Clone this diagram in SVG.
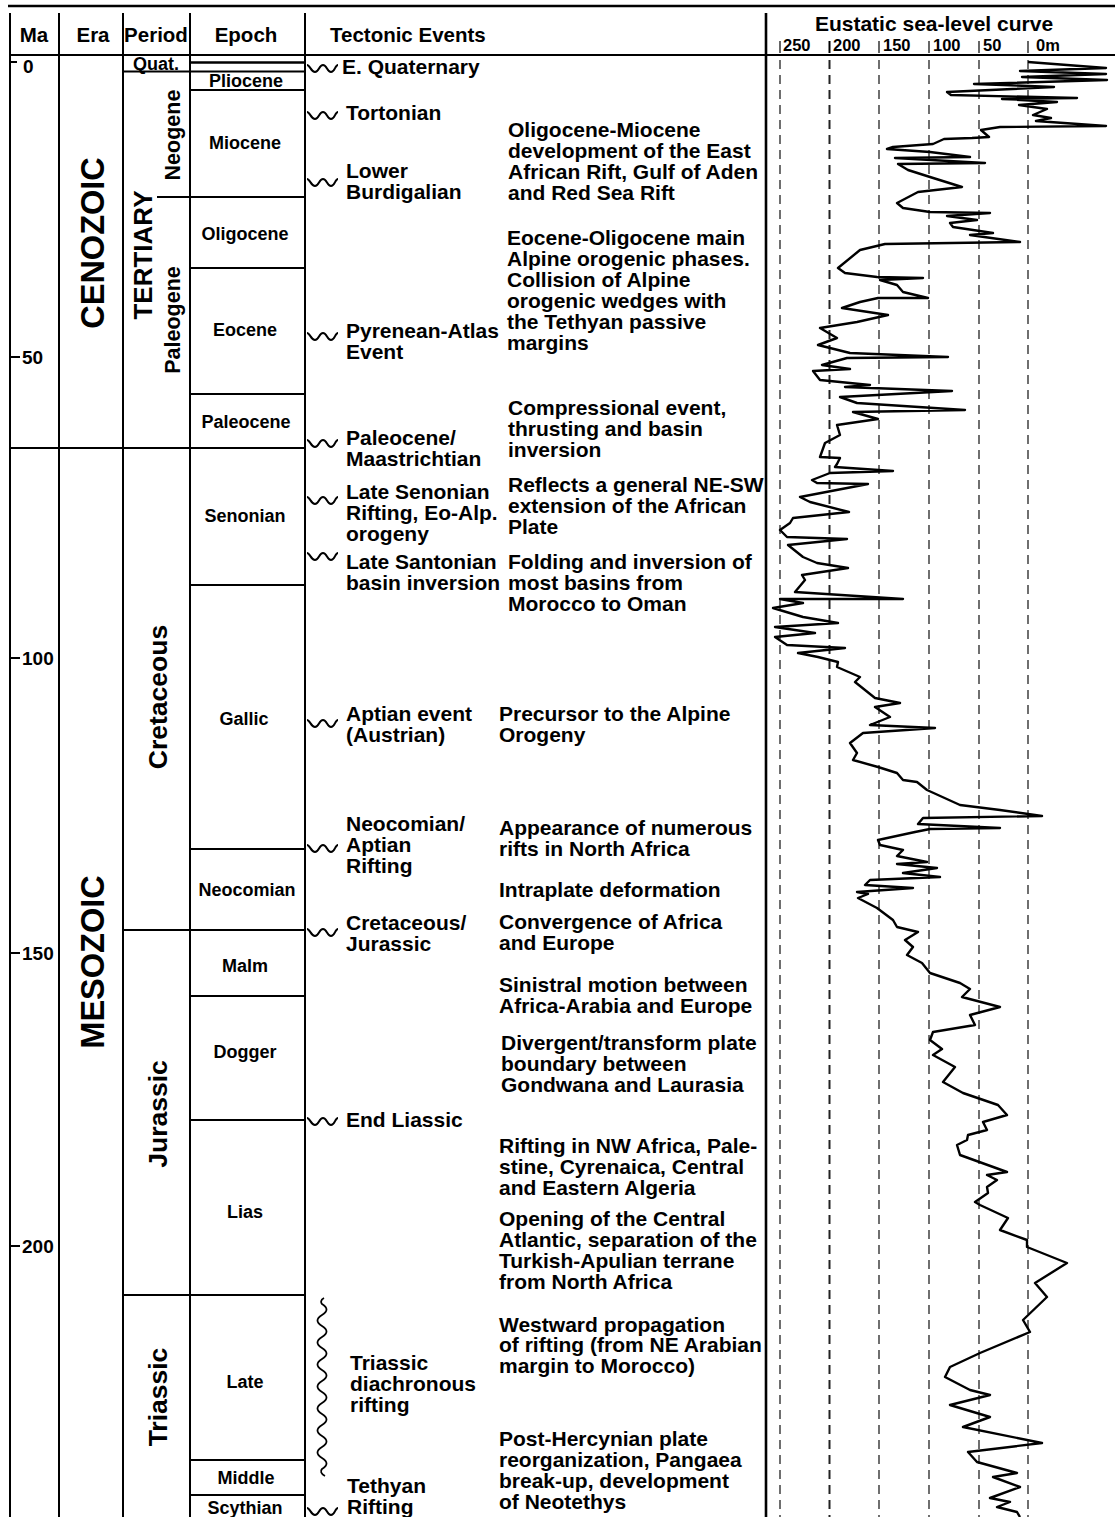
<svg xmlns="http://www.w3.org/2000/svg" width="1115" height="1517" viewBox="0 0 1115 1517">
<style>
text{font-family:"Liberation Sans",Arial,sans-serif;font-weight:bold;fill:#000}
.hd{font-size:20.5px}
.ma{font-size:19px}
.ep{font-size:18px;text-anchor:middle}
.ev{font-size:21px}
.era{font-size:32.5px;text-anchor:middle}
.per{font-size:26.5px;text-anchor:middle}
.sub{font-size:21.5px;text-anchor:middle}
.sc{font-size:16.5px}
.ln{stroke:#000;stroke-width:2;fill:none}
.thin{stroke:#000;stroke-width:1.2;fill:none}
.dash{stroke:#222;stroke-width:1.3;stroke-dasharray:9 6;fill:none}
.wave{stroke:#000;stroke-width:2;fill:none}
.curve{stroke:#000;stroke-width:2.4;fill:none;stroke-linejoin:round}
</style>
<defs>
<path id="w" d="M0,-3 C3,-3 4,4 8,4 C12,4 12,-3 16,-3 C20,-3 20,4 24,4 C28,4 28,-3 31,-3"/>
</defs>
<rect width="1115" height="1517" fill="#fff"/>

<g id="frame">
<line class="ln" x1="8" y1="6" x2="1115" y2="6" style="stroke-width:2.6"/>
<line class="ln" x1="10" y1="55" x2="1115" y2="55"/>
<line class="ln" x1="10" y1="13" x2="10" y2="1517"/>
<line class="ln" x1="59" y1="13" x2="59" y2="1517"/>
<line class="ln" x1="123" y1="13" x2="123" y2="1517"/>
<line class="ln" x1="190" y1="13" x2="190" y2="1517"/>
<line class="ln" x1="305" y1="13" x2="305" y2="1517"/>
<line class="ln" x1="766" y1="13" x2="766" y2="1517" style="stroke-width:2.6"/>
</g>

<g id="header">
<text class="hd" x="34" y="42" text-anchor="middle">Ma</text>
<text class="hd" x="93" y="42" text-anchor="middle">Era</text>
<text class="hd" x="156" y="42" text-anchor="middle">Period</text>
<text class="hd" x="246" y="42" text-anchor="middle">Epoch</text>
<text class="hd" x="330" y="42">Tectonic Events</text>
<text class="hd" x="934" y="31" text-anchor="middle" style="font-size:21px">Eustatic sea-level curve</text>
</g>

<g id="ma-scale">
<line class="ln" x1="10" y1="62" x2="17" y2="62"/><text class="ma" x="23" y="73">0</text>
<line class="ln" x1="10" y1="357" x2="20" y2="357"/><text class="ma" x="22" y="364">50</text>
<line class="ln" x1="10" y1="658" x2="20" y2="658"/><text class="ma" x="22" y="665">100</text>
<line class="ln" x1="10" y1="953" x2="20" y2="953"/><text class="ma" x="22" y="960">150</text>
<line class="ln" x1="10" y1="1246" x2="20" y2="1246"/><text class="ma" x="22" y="1253">200</text>
</g>

<g id="era">
<line class="ln" x1="10" y1="448" x2="305" y2="448"/>
<text class="era" transform="translate(103.5,243) rotate(-90)">CENOZOIC</text>
<text class="era" transform="translate(103.5,962) rotate(-90)">MESOZOIC</text>
</g>

<g id="period">
<line class="ln" x1="123" y1="71.5" x2="305" y2="71.5"/>
<line class="ln" x1="157" y1="197" x2="305" y2="197"/>
<line class="ln" x1="123" y1="930" x2="305" y2="930"/>
<line class="ln" x1="123" y1="1295" x2="305" y2="1295"/>
<text class="ep" x="156" y="69.5">Quat.</text>
<text class="per" transform="translate(152,255) rotate(-90)" style="font-size:26px">TERTIARY</text>
<text class="sub" transform="translate(180,135) rotate(-90)">Neogene</text>
<text class="sub" transform="translate(180,320) rotate(-90)">Paleogene</text>
<text class="per" transform="translate(166.5,697) rotate(-90)">Cretaceous</text>
<text class="per" transform="translate(166.5,1114) rotate(-90)">Jurassic</text>
<text class="per" transform="translate(166.5,1397) rotate(-90)">Triassic</text>
</g>

<g id="epoch">
<line class="ln" x1="190" y1="62.5" x2="305" y2="62.5" style="stroke-width:2.6"/>
<line class="ln" x1="190" y1="90" x2="305" y2="90"/>
<line class="ln" x1="190" y1="268" x2="305" y2="268"/>
<line class="ln" x1="190" y1="394" x2="305" y2="394"/>
<line class="ln" x1="190" y1="585" x2="305" y2="585"/>
<line class="ln" x1="190" y1="849" x2="305" y2="849"/>
<line class="ln" x1="190" y1="996" x2="305" y2="996"/>
<line class="ln" x1="190" y1="1120" x2="305" y2="1120"/>
<line class="ln" x1="190" y1="1460" x2="305" y2="1460"/>
<line class="ln" x1="190" y1="1495" x2="305" y2="1495"/>
<text class="ep" x="246" y="87">Pliocene</text>
<text class="ep" x="245" y="148.5">Miocene</text>
<text class="ep" x="245" y="239.5">Oligocene</text>
<text class="ep" x="245" y="335.5">Eocene</text>
<text class="ep" x="246" y="427.5">Paleocene</text>
<text class="ep" x="245" y="521.5">Senonian</text>
<text class="ep" x="244" y="724.5">Gallic</text>
<text class="ep" x="247" y="895.5">Neocomian</text>
<text class="ep" x="245" y="971.5">Malm</text>
<text class="ep" x="245" y="1057.5">Dogger</text>
<text class="ep" x="245" y="1217.5">Lias</text>
<text class="ep" x="245" y="1387.5">Late</text>
<text class="ep" x="246" y="1483.5">Middle</text>
<text class="ep" x="245" y="1513.5">Scythian</text>
</g>

<g id="event-markers">
<use href="#w" class="wave" x="307" y="68"/>
<use href="#w" class="wave" x="307" y="115"/>
<use href="#w" class="wave" x="307" y="182"/>
<use href="#w" class="wave" x="307" y="336"/>
<use href="#w" class="wave" x="307" y="443"/>
<use href="#w" class="wave" x="307" y="500"/>
<use href="#w" class="wave" x="307" y="556"/>
<use href="#w" class="wave" x="307" y="723"/>
<use href="#w" class="wave" x="307" y="848"/>
<use href="#w" class="wave" x="307" y="932"/>
<use href="#w" class="wave" x="307" y="1121"/>
<use href="#w" class="wave" x="307" y="1511"/>
<path class="wave" d="M324,1298 c-4,2 -3,5 -2,6 q9,5.5 0,11 t0,11 t0,11 t0,11 t0,11 t0,11 t0,11 t0,11 t0,11 t0,11 t0,11 t0,11 t0,11 t0,11 t0,11 c-2,2 -1,5 3,7" style="stroke-width:1.8"/>
</g>

<g id="tectonic-events">
<text class="ev" x="342" y="74">E. Quaternary</text>
<text class="ev" x="346" y="120">Tortonian</text>
<text class="ev" x="346" y="178">Lower</text>
<text class="ev" x="346" y="199">Burdigalian</text>
<text class="ev" x="346" y="338">Pyrenean-Atlas</text>
<text class="ev" x="346" y="359">Event</text>
<text class="ev" x="346" y="445">Paleocene/</text>
<text class="ev" x="346" y="466">Maastrichtian</text>
<text class="ev" x="346" y="499">Late Senonian</text>
<text class="ev" x="346" y="520">Rifting, Eo-Alp.</text>
<text class="ev" x="346" y="541">orogeny</text>
<text class="ev" x="346" y="569">Late Santonian</text>
<text class="ev" x="346" y="590">basin inversion</text>
<text class="ev" x="346" y="721">Aptian event</text>
<text class="ev" x="346" y="742">(Austrian)</text>
<text class="ev" x="346" y="831">Neocomian/</text>
<text class="ev" x="346" y="852">Aptian</text>
<text class="ev" x="346" y="873">Rifting</text>
<text class="ev" x="346" y="930">Cretaceous/</text>
<text class="ev" x="346" y="951">Jurassic</text>
<text class="ev" x="346" y="1127">End Liassic</text>
<text class="ev" x="350" y="1370">Triassic</text>
<text class="ev" x="350" y="1391">diachronous</text>
<text class="ev" x="350" y="1412">rifting</text>
<text class="ev" x="347" y="1493">Tethyan</text>
<text class="ev" x="347" y="1514">Rifting</text>
</g>

<g id="descriptions">
<text class="ev" x="508" y="137">Oligocene-Miocene</text>
<text class="ev" x="508" y="158">development of the East</text>
<text class="ev" x="508" y="179">African Rift, Gulf of Aden</text>
<text class="ev" x="508" y="200">and Red Sea Rift</text>
<text class="ev" x="507" y="245">Eocene-Oligocene main</text>
<text class="ev" x="507" y="266">Alpine orogenic phases.</text>
<text class="ev" x="507" y="287">Collision of Alpine</text>
<text class="ev" x="507" y="308">orogenic wedges with</text>
<text class="ev" x="507" y="329">the Tethyan passive</text>
<text class="ev" x="507" y="350">margins</text>
<text class="ev" x="508" y="415">Compressional event,</text>
<text class="ev" x="508" y="436">thrusting and basin</text>
<text class="ev" x="508" y="457">inversion</text>
<text class="ev" x="508" y="492">Reflects a general NE-SW</text>
<text class="ev" x="508" y="513">extension of the African</text>
<text class="ev" x="508" y="534">Plate</text>
<text class="ev" x="508" y="569">Folding and inversion of</text>
<text class="ev" x="508" y="590">most basins from</text>
<text class="ev" x="508" y="611">Morocco to Oman</text>
<text class="ev" x="499" y="721">Precursor to the Alpine</text>
<text class="ev" x="499" y="742">Orogeny</text>
<text class="ev" x="499" y="835">Appearance of numerous</text>
<text class="ev" x="499" y="856">rifts in North Africa</text>
<text class="ev" x="499" y="897">Intraplate deformation</text>
<text class="ev" x="499" y="929">Convergence of Africa</text>
<text class="ev" x="499" y="950">and Europe</text>
<text class="ev" x="499" y="992">Sinistral motion between</text>
<text class="ev" x="499" y="1013">Africa-Arabia and Europe</text>
<text class="ev" x="501" y="1050">Divergent/transform plate</text>
<text class="ev" x="501" y="1071">boundary between</text>
<text class="ev" x="501" y="1092">Gondwana and Laurasia</text>
<text class="ev" x="499" y="1153">Rifting in NW Africa, Pale-</text>
<text class="ev" x="499" y="1174">stine, Cyrenaica, Central</text>
<text class="ev" x="499" y="1195">and Eastern Algeria</text>
<text class="ev" x="499" y="1226">Opening of the Central</text>
<text class="ev" x="499" y="1247">Atlantic, separation of the</text>
<text class="ev" x="499" y="1268">Turkish-Apulian terrane</text>
<text class="ev" x="499" y="1289">from North Africa</text>
<text class="ev" x="499" y="1332">Westward propagation</text>
<text class="ev" x="499" y="1352">of rifting (from NE Arabian</text>
<text class="ev" x="499" y="1373">margin to Morocco)</text>
<text class="ev" x="499" y="1446">Post-Hercynian plate</text>
<text class="ev" x="499" y="1467">reorganization, Pangaea</text>
<text class="ev" x="499" y="1488">break-up, development</text>
<text class="ev" x="499" y="1509">of Neotethys</text>
</g>

<g id="sea-level-axis">
<line class="thin" x1="780" y1="41" x2="780" y2="53"/><text class="sc" x="783" y="51">250</text>
<line class="thin" x1="829.5" y1="41" x2="829.5" y2="53" style="stroke-width:2"/><text class="sc" x="833" y="51">200</text>
<line class="thin" x1="879" y1="41" x2="879" y2="53"/><text class="sc" x="883" y="51">150</text>
<line class="thin" x1="929" y1="41" x2="929" y2="53"/><text class="sc" x="933" y="51">100</text>
<line class="thin" x1="979" y1="41" x2="979" y2="53"/><text class="sc" x="983" y="51">50</text>
<line class="thin" x1="1028" y1="41" x2="1028" y2="53"/><text class="sc" x="1036" y="51">0m</text>
<line class="dash" x1="780" y1="60" x2="780" y2="1517"/>
<line class="dash" x1="829.5" y1="60" x2="829.5" y2="1517" style="stroke-width:2"/>
<line class="dash" x1="879" y1="60" x2="879" y2="1517"/>
<line class="dash" x1="929" y1="60" x2="929" y2="1517"/>
<line class="dash" x1="979" y1="60" x2="979" y2="1517"/>
<line class="dash" x1="1028" y1="60" x2="1028" y2="1517"/>
</g>

<g id="sea-level-curve">
<polyline class="curve" points="1028,62 1106,68 1020,71 1106,74 1022,77 1107,80 974,84 1054,87 947,92 951,95 1077,98 1002,99 1057,102 1019,105 1047,109 1033,115 1051,118 1036,121 1106,126 1000,127 981,130 989,137 972,138 944,139 933,144 893,147 887,149 930,152 970,157 895,158 985,163 898,164 908,170 930,177 962,187 918,192 897,203 903,208 930,212 990,213 947,216 977,220 950,223 953,227 993,233 970,235 1020,242 885,244 860,250 838,268 845,273 877,277 923,278 880,280 897,285 903,292 928,298 878,298 860,302 842,308 888,315 857,322 820,328 837,338 818,345 850,353 948,357 847,358 822,365 850,369 813,371 820,380 870,385 845,387 952,391 840,397 857,403 965,410 853,412 878,419 837,425 840,435 825,443 820,457 840,458 837,464 835,467 893,471 830,473 812,480 817,483 868,484 800,497 810,502 849,512 793,518 790,523 780,530 787,537 847,539 788,545 803,557 817,563 848,568 802,575 805,580 795,592 903,599 780,599 803,603 773,608 803,617 838,623 775,627 815,633 775,637 787,645 845,648 798,653 818,657 838,662 837,667 860,677 855,682 875,698 900,703 875,707 890,717 870,725 935,728 863,733 850,743 857,753 853,760 878,767 897,773 903,780 917,782 927,790 960,805 1000,810 1042,816 923,818 918,824 1000,828 930,829 915,832 878,840 880,845 903,850 897,856 927,862 897,864 937,868 903,873 940,877 870,880 865,885 913,888 857,892 868,894 858,898 877,908 893,920 897,927 918,932 905,940 913,947 907,955 922,963 930,973 960,983 970,989 962,997 1000,1007 970,1015 975,1025 933,1032 930,1040 942,1049 933,1055 955,1067 943,1082 963,1093 998,1105 1007,1115 983,1122 987,1130 968,1135 967,1140 957,1145 960,1155 1007,1172 987,1175 997,1180 987,1187 988,1193 975,1202 980,1205 1008,1218 1000,1230 1027,1240 1027,1247 1067,1263 1035,1283 1047,1297 1023,1320 1030,1332 980,1353 950,1367 945,1377 970,1390 990,1395 950,1405 990,1417 963,1427 1042,1443 968,1452 977,1462 1017,1473 993,1477 1020,1487 990,1498 1010,1502 997,1507 1017,1512 1020,1517"/>
</g>
</svg>
